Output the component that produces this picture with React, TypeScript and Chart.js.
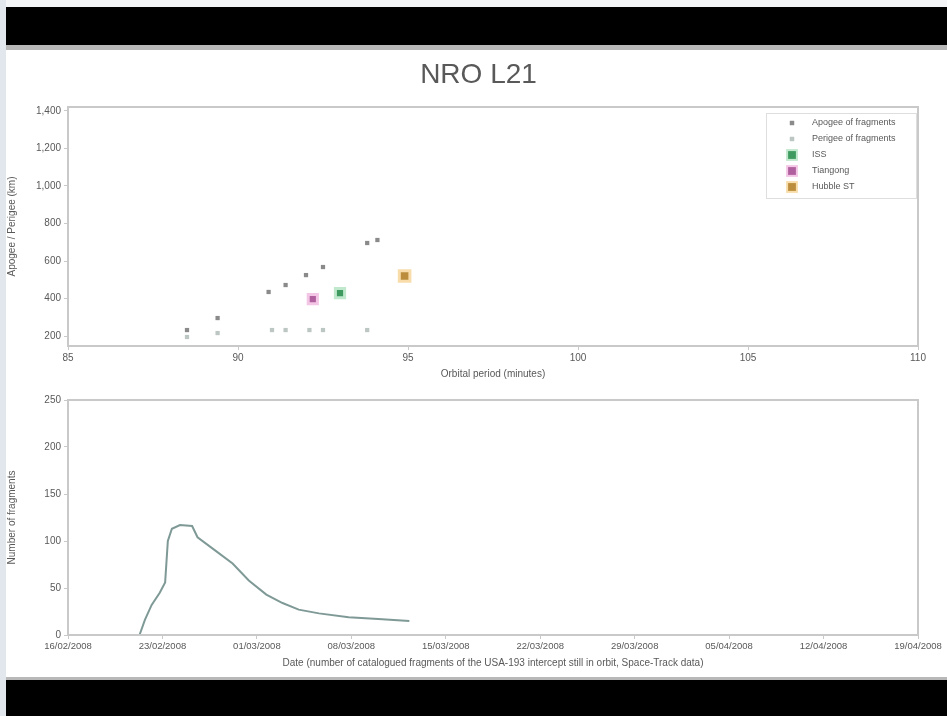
import React, { useEffect, useRef } from "react";
import { Chart, registerables } from "chart.js";

Chart.register(...registerables);

// ---------- data ----------
const chartTitle = "NRO L21";

const periodTicks = [85, 90, 95, 100, 105, 110];
const altitudeTicks = [200, 400, 600, 800, 1000, 1200, 1400];

const apogeePeriods = [88.5, 89.4, 90.9, 91.4, 92.0, 92.5, 93.8, 94.1];
const apogeeAltitudes = [232, 296, 435, 472, 525, 568, 696, 712];

const perigeePeriods = [88.5, 89.4, 91.0, 91.4, 92.1, 92.5, 93.8];
const perigeeAltitudes = [195, 216, 232, 232, 232, 232, 232];

const stationNames = ["ISS", "Tiangong", "Hubble ST"];
const stationPeriods = [93.0, 92.2, 94.9];
const stationAltitudes = [429, 397, 520];

const fragmentLegendNames = ["Apogee of fragments", "Perigee of fragments"];

const dateStartYear = 2008;
const dateStartMonth = 2;
const dateStartDay = 16;
const dateTickDays = [0, 7, 14, 21, 28, 35, 42, 49, 56, 63];
const countTicks = [0, 50, 100, 150, 200, 250];

const dayOffsets = [5.3, 5.7, 6.2, 6.8, 7.2, 7.4, 7.7, 8.3, 9.2, 9.6, 11.0, 12.2, 13.4, 14.7, 15.9, 17.1, 18.6, 20.8, 23.0, 25.3];
const fragmentCounts = [0, 16, 32, 45, 56, 100, 113, 117, 116, 104, 89, 76, 58, 43, 34, 27, 23, 19, 17, 15];

// ---------- styles ----------
const FONT = "'Liberation Sans', Arial, sans-serif";
const TEXT = "#595959";
const FRAME = "#c9c9c9";

const pad2 = (n: number) => (n < 10 ? "0" + n : "" + n);
const startUTC = Date.UTC(dateStartYear, dateStartMonth - 1, dateStartDay);
const fmtDate = (d: number) => {
  const dt = new Date(startUTC + d * 86400000);
  return `${pad2(dt.getUTCDate())}/${pad2(dt.getUTCMonth() + 1)}/${dt.getUTCFullYear()}`;
};

const framePlugin = {
  id: "plotFrame",
  afterDraw(chart: any) {
    const { ctx, chartArea } = chart;
    ctx.save();
    ctx.strokeStyle = FRAME;
    ctx.lineWidth = 2;
    ctx.strokeRect(chartArea.left, chartArea.top, chartArea.right - chartArea.left, chartArea.bottom - chartArea.top);
    ctx.restore();
  },
};

const centredTitle = {
  id: "centredTitle",
  afterDraw(chart: any, _args: any, opts: any) {
    const { ctx } = chart;
    ctx.save();
    ctx.fillStyle = TEXT;
    ctx.font = `28px ${FONT}`;
    ctx.textAlign = "center";
    ctx.textBaseline = "middle";
    ctx.fillText(opts.text, chart.width / 2 + 2, 25);
    ctx.restore();
  },
};

const insideLegend = {
  id: "insideLegend",
  afterDraw(chart: any) {
    const { ctx, chartArea } = chart;
    const w = 150;
    const h = 85;
    const x0 = chartArea.right - w - 2;
    const y0 = chartArea.top + 6;
    const rows = [10, 26, 42, 58, 74];
    ctx.save();
    ctx.fillStyle = "#ffffff";
    ctx.fillRect(x0, y0, w, h);
    ctx.strokeStyle = "#dedede";
    ctx.lineWidth = 1;
    ctx.strokeRect(x0 + 0.5, y0 + 0.5, w, h);
    chart.data.datasets.forEach((ds: any, i: number) => {
      const cy = y0 + rows[i];
      const cx = x0 + 26;
      const side = Math.min(ds.pointRadius, 5.5) * Math.SQRT2;
      const bw = Math.min(ds.pointBorderWidth, 2);
      ctx.fillStyle = ds.pointBorderColor;
      ctx.fillRect(cx - side / 2 - bw, cy - side / 2 - bw, side + 2 * bw, side + 2 * bw);
      ctx.fillStyle = ds.pointBackgroundColor;
      ctx.fillRect(cx - side / 2, cy - side / 2, side, side);
      ctx.fillStyle = TEXT;
      ctx.font = `9px ${FONT}`;
      ctx.textBaseline = "middle";
      ctx.textAlign = "left";
      ctx.fillText(ds.label, x0 + 46, cy);
    });
    ctx.restore();
  },
};

const tickFont = { family: FONT, size: 10 };
const titleFont = { family: FONT, size: 10 };

export default function App() {
  const topRef = useRef<HTMLCanvasElement | null>(null);
  const botRef = useRef<HTMLCanvasElement | null>(null);

  useEffect(() => {
    const mk = (xs: number[], ys: number[]) => xs.map((x, i) => ({ x, y: ys[i] }));
    const stationStyles = [
      { fill: "#3f9a60", border: "#bfe8cc" },
      { fill: "#b0609e", border: "#f3c6e6" },
      { fill: "#bb8d3c", border: "#f8ddaa" },
    ];
    const top = new Chart(topRef.current as HTMLCanvasElement, {
      type: "scatter",
      data: {
        datasets: [
          {
            label: fragmentLegendNames[0],
            data: mk(apogeePeriods, apogeeAltitudes),
            pointStyle: "rect",
            pointRadius: 3,
            pointBorderWidth: 0,
            pointBackgroundColor: "#8a8a8a",
            pointBorderColor: "#8a8a8a",
          },
          {
            label: fragmentLegendNames[1],
            data: mk(perigeePeriods, perigeeAltitudes),
            pointStyle: "rect",
            pointRadius: 3,
            pointBorderWidth: 0,
            pointBackgroundColor: "#bcc6c2",
            pointBorderColor: "#bcc6c2",
          },
          ...stationNames.map((name, i) => ({
            label: name,
            data: [{ x: stationPeriods[i], y: stationAltitudes[i] }],
            pointStyle: "rect",
            pointRadius: i === 2 ? 7.5 : 6.5,
            pointBorderWidth: 3,
            pointBackgroundColor: stationStyles[i].fill,
            pointBorderColor: stationStyles[i].border,
          })),
        ] as any,
      },
      options: {
        animation: false,
        responsive: false,
        maintainAspectRatio: false,
        events: [],
        layout: { padding: { left: 0, right: 29, top: 57, bottom: 5 } },
        plugins: {
          legend: { display: false },
          tooltip: { enabled: false },
          title: { display: false },
          centredTitle: { text: chartTitle },
        },
        scales: {
          x: {
            type: "linear",
            min: periodTicks[0],
            max: periodTicks[periodTicks.length - 1],
            afterBuildTicks: (s: any) => {
              s.ticks = periodTicks.map((v) => ({ value: v }));
            },
            afterFit: (s: any) => {
              s.height = 34;
            },
            grid: { display: true, drawOnChartArea: false, tickLength: 4, color: FRAME },
            border: { display: true, color: FRAME, width: 2 },
            ticks: { color: TEXT, font: tickFont, padding: 2 },
            title: { display: true, text: "Orbital period (minutes)", color: TEXT, font: titleFont, padding: { top: 2, bottom: 0 } },
          },
          y: {
            type: "linear",
            min: 147,
            max: 1421,
            afterBuildTicks: (s: any) => {
              s.ticks = altitudeTicks.map((v) => ({ value: v }));
            },
            afterFit: (s: any) => {
              s.width = 62;
            },
            grid: { display: true, drawOnChartArea: false, tickLength: 4, color: FRAME },
            border: { display: true, color: FRAME, width: 2 },
            ticks: { color: TEXT, font: tickFont, padding: 3 },
            title: { display: true, text: "Apogee / Perigee (km)", color: TEXT, font: titleFont, padding: { top: 0, bottom: 0 } },
          },
        },
      } as any,
      plugins: [framePlugin, insideLegend, centredTitle],
    });

    const bot = new Chart(botRef.current as HTMLCanvasElement, {
      type: "line",
      data: {
        datasets: [
          {
            label: "Fragments in orbit",
            data: mk(dayOffsets, fragmentCounts),
            borderColor: "#7f9a96",
            borderWidth: 2,
            pointRadius: 0,
            fill: false,
            tension: 0,
          },
        ],
      },
      options: {
        animation: false,
        responsive: false,
        maintainAspectRatio: false,
        events: [],
        layout: { padding: { left: 0, right: 29, top: 15, bottom: 8 } },
        plugins: { legend: { display: false }, tooltip: { enabled: false }, title: { display: false } },
        scales: {
          x: {
            type: "linear",
            min: dateTickDays[0],
            max: dateTickDays[dateTickDays.length - 1],
            afterBuildTicks: (s: any) => {
              s.ticks = dateTickDays.map((v) => ({ value: v }));
            },
            afterFit: (s: any) => {
              s.height = 34;
            },
            grid: { display: true, drawOnChartArea: false, tickLength: 4, color: FRAME },
            border: { display: true, color: FRAME, width: 2 },
            ticks: { color: TEXT, font: { family: FONT, size: 9.5 }, padding: 2, maxRotation: 0, autoSkip: false, callback: (v: any) => fmtDate(Number(v)) },
            title: {
              display: true,
              text: "Date (number of catalogued fragments of the USA-193 intercept still in orbit, Space-Track data)",
              color: TEXT,
              font: titleFont,
              padding: { top: 2, bottom: 0 },
            },
          },
          y: {
            type: "linear",
            min: countTicks[0],
            max: countTicks[countTicks.length - 1],
            afterBuildTicks: (s: any) => {
              s.ticks = countTicks.map((v) => ({ value: v }));
            },
            afterFit: (s: any) => {
              s.width = 62;
            },
            grid: { display: true, drawOnChartArea: false, tickLength: 4, color: FRAME },
            border: { display: true, color: FRAME, width: 2 },
            ticks: { color: TEXT, font: tickFont, padding: 3 },
            title: { display: true, text: "Number of fragments", color: TEXT, font: titleFont, padding: { top: 0, bottom: 0 } },
          },
        },
      } as any,
      plugins: [framePlugin],
    });

    return () => {
      top.destroy();
      bot.destroy();
    };
  }, []);

  return (
    <div style={{ position: "fixed", left: 0, top: 0, width: 947, height: 716, background: "#e2e7ed", overflow: "hidden" }}>
      <div style={{ position: "absolute", left: 6, top: 0, width: 941, height: 7, background: "#f4f5f7" }} />
      <div style={{ position: "absolute", left: 6, top: 7, width: 941, height: 38, background: "#000" }} />
      <div style={{ position: "absolute", left: 6, top: 45, width: 941, height: 5, background: "#b8b8b8" }} />
      <div style={{ position: "absolute", left: 6, top: 50, width: 941, height: 627, background: "#fff" }} />
      <div style={{ position: "absolute", left: 6, top: 677, width: 941, height: 3, background: "#b8b8b8" }} />
      <div style={{ position: "absolute", left: 6, top: 680, width: 941, height: 36, background: "#000" }} />
      <canvas ref={topRef} width={941} height={335} style={{ position: "absolute", left: 6, top: 50, width: 941, height: 335 }} />
      <canvas ref={botRef} width={941} height={292} style={{ position: "absolute", left: 6, top: 385, width: 941, height: 292 }} />
    </div>
  );
}
